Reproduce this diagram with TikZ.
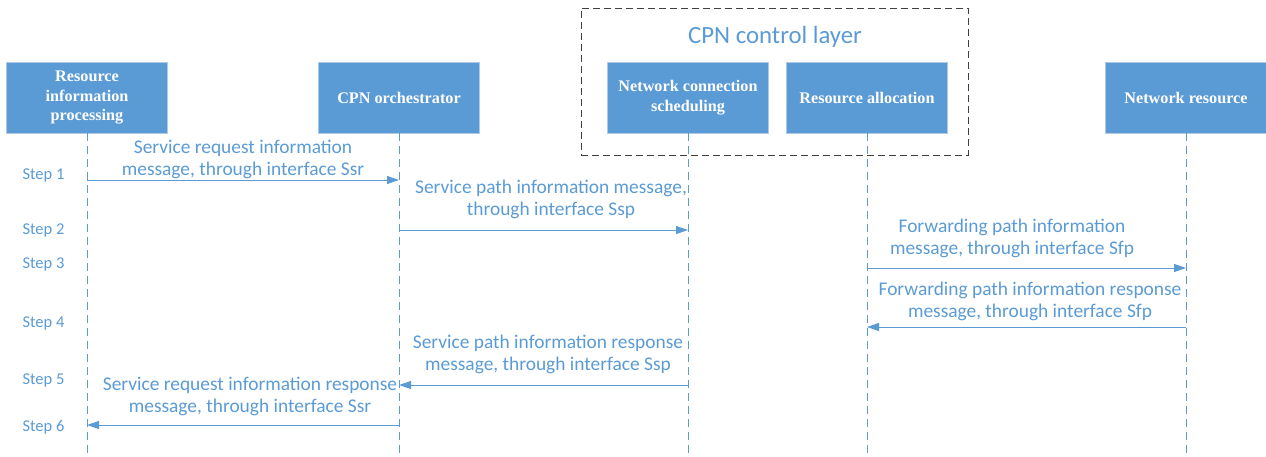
\documentclass[tikz,border=0pt]{standalone}
\usepackage{fontspec}
\setmainfont{Liberation Serif}
\newfontfamily\calfont{Carlito}
\usetikzlibrary{arrows.meta}
\definecolor{cpnblue}{RGB}{91,155,213}
\definecolor{cpnedge}{RGB}{175,200,228}
\begin{document}
\begin{tikzpicture}[x=1pt,y=-1pt,
  actor/.style={draw=cpnedge,line width=0.8pt,fill=cpnblue,text=white,minimum width=161pt,minimum height=71pt,align=center,font=\fontsize{16.2}{19.5}\selectfont\bfseries,inner sep=2pt},
  life/.style={draw=cpnblue,line width=0.8pt,dash pattern=on 8pt off 5pt},
  msg/.style={draw=cpnblue,line width=1pt,-{Triangle[length=12pt,width=8pt]}},
  lbl/.style={text=cpnblue,align=center,font=\calfont\fontsize{19.4}{22}\selectfont,inner sep=0pt},
  steplbl/.style={text=cpnblue,font=\calfont\fontsize{16.5}{18}\selectfont,inner sep=0pt}]
\useasboundingbox (0,0) rectangle (1266,456);
% control layer container
\node[draw=black!75,line width=0.8pt,dash pattern=on 7pt off 4pt,minimum width=387pt,minimum height=147pt,inner sep=0pt] (layer) at (774.5,81.5) {};
\node[text=cpnblue,font=\calfont\fontsize{24.8}{28}\selectfont] (layertitle) at (775,37) {CPN control layer};
% actors
\node[actor] (b1) at (87,97.5) {Resource\\information\\processing};
\node[actor] (b2) at (399,97.5) {CPN orchestrator};
\node[actor] (b3) at (688,97.5) {Network connection\\scheduling};
\node[actor] (b4) at (867,97.5) {Resource allocation};
\node[actor] (b5) at (1186,97.5) {Network resource};
% lifeline ends
\coordinate (e1) at (87,456);
\coordinate (e2) at (399,456);
\coordinate (e3) at (688,456);
\coordinate (e4) at (867,456);
\coordinate (e5) at (1186,456);
\draw[life] (b1.south) -- (e1);
\draw[life] (b2.south) -- (e2);
\draw[life] (b3.south) -- (e3);
\draw[life] (b4.south) -- (e4);
\draw[life] (b5.south) -- (e5);
% step labels
\node[steplbl] (st1) at (43.5,175) {Step 1};
\node[steplbl] (st2) at (43.5,230) {Step 2};
\node[steplbl] (st3) at (43.5,264) {Step 3};
\node[steplbl] (st4) at (43.5,323) {Step 4};
\node[steplbl] (st5) at (43.5,380) {Step 5};
\node[steplbl] (st6) at (43.5,427) {Step 6};
% messages
\draw[msg] (b1.south |- 0,180) -- (b2.south |- 0,180);
\node[lbl] (m1) at (243,159.5) {Service request information\\message, through interface Ssr};
\draw[msg] (b2.south |- 0,230) -- (b3.south |- 0,230);
\node[lbl] (m2) at (551,199.5) {Service path information message,\\through interface Ssp};
\draw[msg] (b4.south |- 0,268) -- (b5.south |- 0,268);
\node[lbl] (m3) at (1012,238.5) {Forwarding path information\\message, through interface Sfp};
\draw[msg] (b5.south |- 0,327) -- (b4.south |- 0,327);
\node[lbl] (m4) at (1030,301.5) {Forwarding path information response\\message, through interface Sfp};
\draw[msg] (b3.south |- 0,385) -- (b2.south |- 0,385);
\node[lbl] (m5) at (548,354.5) {Service path information response\\message, through interface Ssp};
\draw[msg] (b2.south |- 0,425) -- (b1.south |- 0,425);
\node[lbl] (m6) at (250,396) {Service request information response\\message, through interface Ssr};
\end{tikzpicture}
\end{document}
